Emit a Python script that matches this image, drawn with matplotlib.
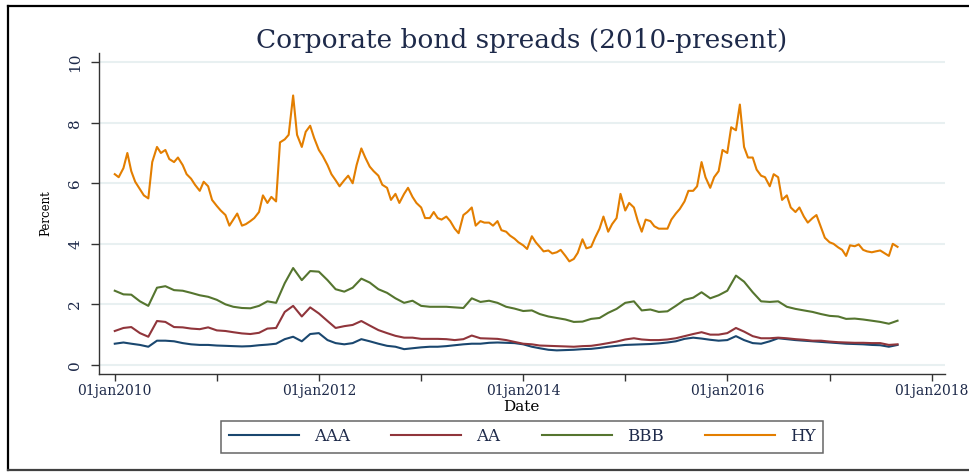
import pandas as pd
import matplotlib.pyplot as plt
from matplotlib.lines import Line2D

plt.rcParams['font.family'] = ['DejaVu Serif']

# ── 1. Data ───────────────────────────────────────────────────────────────────
# HY: twice a month (1st and 15th), Jan 2010 - Sep 2017
hy_dates = pd.date_range('2010-01-01', periods=185, freq='SMS')
hy = [
    6.3, 6.2, 6.5, 7.0, 6.4, 6.05, 5.8, 5.6, 5.5, 6.7, 7.2, 7.0,            # 2010
    7.1, 6.8, 6.7, 6.85, 6.6, 6.3, 6.15, 5.95, 5.75, 6.05, 5.9, 5.45,
    5.25, 5.1, 4.95, 4.6, 4.8, 5.0, 4.6, 4.65, 4.75, 4.85, 5.05, 5.6,       # 2011
    5.35, 5.55, 5.4, 7.35, 7.45, 7.6, 8.9, 7.6, 7.2, 7.7, 7.9, 7.5,
    7.1, 6.9, 6.6, 6.3, 6.1, 5.9, 6.1, 6.25, 6.0, 6.6, 7.15, 6.85,          # 2012
    6.55, 6.4, 6.25, 5.95, 5.85, 5.45, 5.65, 5.35, 5.65, 5.85, 5.55, 5.35,
    5.2, 4.85, 4.85, 5.05, 4.85, 4.8, 4.9, 4.75, 4.5, 4.35, 4.95, 5.05,     # 2013
    5.2, 4.6, 4.75, 4.7, 4.7, 4.6, 4.75, 4.45, 4.4, 4.27, 4.17, 4.05,
    3.95, 3.83, 4.25, 4.05, 3.9, 3.75, 3.78, 3.68, 3.72, 3.8, 3.6, 3.42,    # 2014
    3.5, 3.7, 4.15, 3.85, 3.9, 4.2, 4.5, 4.9, 4.4, 4.65, 4.85, 5.65,
    5.1, 5.35, 5.2, 4.75, 4.4, 4.8, 4.75, 4.58, 4.5, 4.5, 4.5, 4.8,         # 2015
    5.0, 5.15, 5.4, 5.75, 5.75, 5.9, 6.7, 6.2, 5.85, 6.2, 6.4, 7.1,
    7.0, 7.85, 7.75, 8.6, 7.2, 6.85, 6.85, 6.45, 6.25, 6.2, 5.9, 6.3,       # 2016
    6.2, 5.45, 5.6, 5.2, 5.05, 5.2, 4.9, 4.7, 4.85, 4.95, 4.55, 4.2,
    4.05, 4.0, 3.88, 3.8, 3.6, 3.95, 3.92, 3.98, 3.8, 3.75, 3.72, 3.75,     # 2017
    3.78, 3.7, 3.6, 4.0, 3.9,
]

# AAA, AA, BBB: monthly, Jan 2010 - Sep 2017
ig_dates = pd.date_range('2010-01-01', periods=93, freq='MS')
aaa = [
    0.70, 0.74, 0.70, 0.66, 0.60, 0.80, 0.80, 0.78, 0.72, 0.68, 0.66, 0.66,
    0.64, 0.63, 0.62, 0.61, 0.62, 0.65, 0.67, 0.70, 0.85, 0.93, 0.78, 1.02,
    1.05, 0.82, 0.72, 0.68, 0.72, 0.85, 0.78, 0.70, 0.63, 0.60, 0.52, 0.55,
    0.58, 0.60, 0.60, 0.62, 0.65, 0.68, 0.70, 0.70, 0.73, 0.74, 0.73, 0.72,
    0.68, 0.60, 0.55, 0.50, 0.48, 0.49, 0.50, 0.52, 0.53, 0.56, 0.60, 0.63,
    0.66, 0.67, 0.68, 0.69, 0.71, 0.74, 0.78, 0.86, 0.90, 0.87, 0.83, 0.80,
    0.82, 0.95, 0.82, 0.72, 0.70, 0.78, 0.88, 0.85, 0.82, 0.80, 0.78, 0.76,
    0.74, 0.72, 0.70, 0.69, 0.68, 0.66, 0.65, 0.60, 0.66,
]
aa = [
    1.12, 1.22, 1.25, 1.05, 0.93, 1.45, 1.42, 1.25, 1.24, 1.20, 1.18, 1.24,
    1.14, 1.12, 1.08, 1.04, 1.02, 1.06, 1.20, 1.22, 1.75, 1.95, 1.60, 1.90,
    1.70, 1.45, 1.22, 1.28, 1.32, 1.45, 1.30, 1.15, 1.05, 0.96, 0.90, 0.90,
    0.86, 0.86, 0.86, 0.85, 0.82, 0.85, 0.97, 0.88, 0.87, 0.86, 0.82, 0.76,
    0.70, 0.68, 0.64, 0.63, 0.62, 0.61, 0.60, 0.62, 0.63, 0.67, 0.72, 0.77,
    0.84, 0.88, 0.84, 0.82, 0.82, 0.84, 0.88, 0.95, 1.02, 1.08, 1.00, 1.00,
    1.05, 1.22, 1.10, 0.95, 0.88, 0.88, 0.90, 0.88, 0.85, 0.83, 0.80, 0.80,
    0.77, 0.75, 0.74, 0.73, 0.73, 0.72, 0.72, 0.66, 0.68,
]
bbb = [
    2.45, 2.33, 2.32, 2.10, 1.95, 2.55, 2.60, 2.47, 2.45, 2.38, 2.30, 2.25,
    2.15, 2.00, 1.92, 1.88, 1.87, 1.95, 2.10, 2.05, 2.70, 3.20, 2.80, 3.10,
    3.08, 2.80, 2.50, 2.42, 2.55, 2.85, 2.72, 2.50, 2.38, 2.20, 2.05, 2.12,
    1.95, 1.92, 1.92, 1.92, 1.90, 1.88, 2.20, 2.08, 2.12, 2.05, 1.92, 1.86,
    1.78, 1.80, 1.68, 1.60, 1.55, 1.50, 1.42, 1.43, 1.52, 1.55, 1.72, 1.85,
    2.05, 2.10, 1.80, 1.83, 1.75, 1.77, 1.95, 2.15, 2.22, 2.40, 2.20, 2.30,
    2.45, 2.95, 2.75, 2.40, 2.10, 2.08, 2.10, 1.92, 1.85, 1.80, 1.75, 1.68,
    1.62, 1.60, 1.52, 1.53, 1.50, 1.46, 1.42, 1.36, 1.46,
]

labels = ['AAA', 'AA', 'BBB', 'HY']
colors = ['#1a476f', '#90353b', '#55752f', '#e37e00']
year_ticks = pd.date_range('2010-01-01', '2018-01-01', freq='YS')
y_ticks = [0, 2, 4, 6, 8, 10]
text_col = '#1e2a4a'

# ── 2. Plot ───────────────────────────────────────────────────────────────────
fig = plt.figure(figsize=(9.69, 4.74), dpi=100)
ax = fig.add_axes([0.102, 0.211, 0.873, 0.677])

for dates, vals, lab, col in zip([ig_dates, ig_dates, ig_dates, hy_dates],
                                 [aaa, aa, bbb, hy], labels, colors):
    ax.plot(dates, vals, color=col, lw=1.5, label=lab)

ax.set_xlim(pd.Timestamp('2009-11-05'), pd.Timestamp('2018-02-17'))
ax.set_ylim(-0.3, 10.3)

ax.set_xticks(year_ticks)
ax.set_xticklabels([d.strftime('%d%b%Y').lower() if d.year % 2 == 0 else ''
                    for d in year_ticks])
ax.set_yticks(y_ticks)
ax.set_yticklabels([str(v) for v in y_ticks], rotation=90, va='center')
ax.tick_params(axis='x', length=5, width=1, pad=2, labelsize=10,
               labelcolor=text_col, color='#333333')
ax.tick_params(axis='y', length=6, width=1, pad=6, labelsize=11,
               labelcolor=text_col, color='#333333')

ax.grid(axis='y', color='#e8f0f1', lw=1.5)
ax.set_axisbelow(True)
for side in ['top', 'right']:
    ax.spines[side].set_visible(False)
for side in ['left', 'bottom']:
    ax.spines[side].set_color('#333333')
    ax.spines[side].set_linewidth(1.0)

ax.set_title('Corporate bond spreads (2010-present)', fontsize=19,
             color=text_col, pad=4)
ax.set_ylabel('Percent', fontsize=8.5, color='black')
ax.yaxis.set_label_coords(-0.055, 0.5)
ax.set_xlabel('Date', fontsize=11, color='black')
ax.xaxis.set_label_coords(0.5, -0.082)

leg = fig.legend(loc='center', bbox_to_anchor=(0.539, 0.079), ncol=4,
                 fontsize=12, frameon=True, fancybox=False, handlelength=4.2,
                 handletextpad=0.9, columnspacing=2.5, borderpad=0.45)
leg.get_frame().set_edgecolor('#404040')
leg.get_frame().set_linewidth(1.1)
for t in leg.get_texts():
    t.set_color(text_col)

# outer frame (right edge is cropped in the original)
fig.add_artist(Line2D([8 / 969, 8 / 969], [1 - 6 / 474, 1 - 470 / 474],
                      transform=fig.transFigure, color='black', lw=1.6))
fig.add_artist(Line2D([8 / 969, 1], [1 - 6 / 474, 1 - 6 / 474],
                      transform=fig.transFigure, color='black', lw=1.6))
fig.add_artist(Line2D([8 / 969, 1], [1 - 470 / 474, 1 - 470 / 474],
                      transform=fig.transFigure, color='#404040', lw=1.6))

fig.savefig('out.png', dpi=100)
